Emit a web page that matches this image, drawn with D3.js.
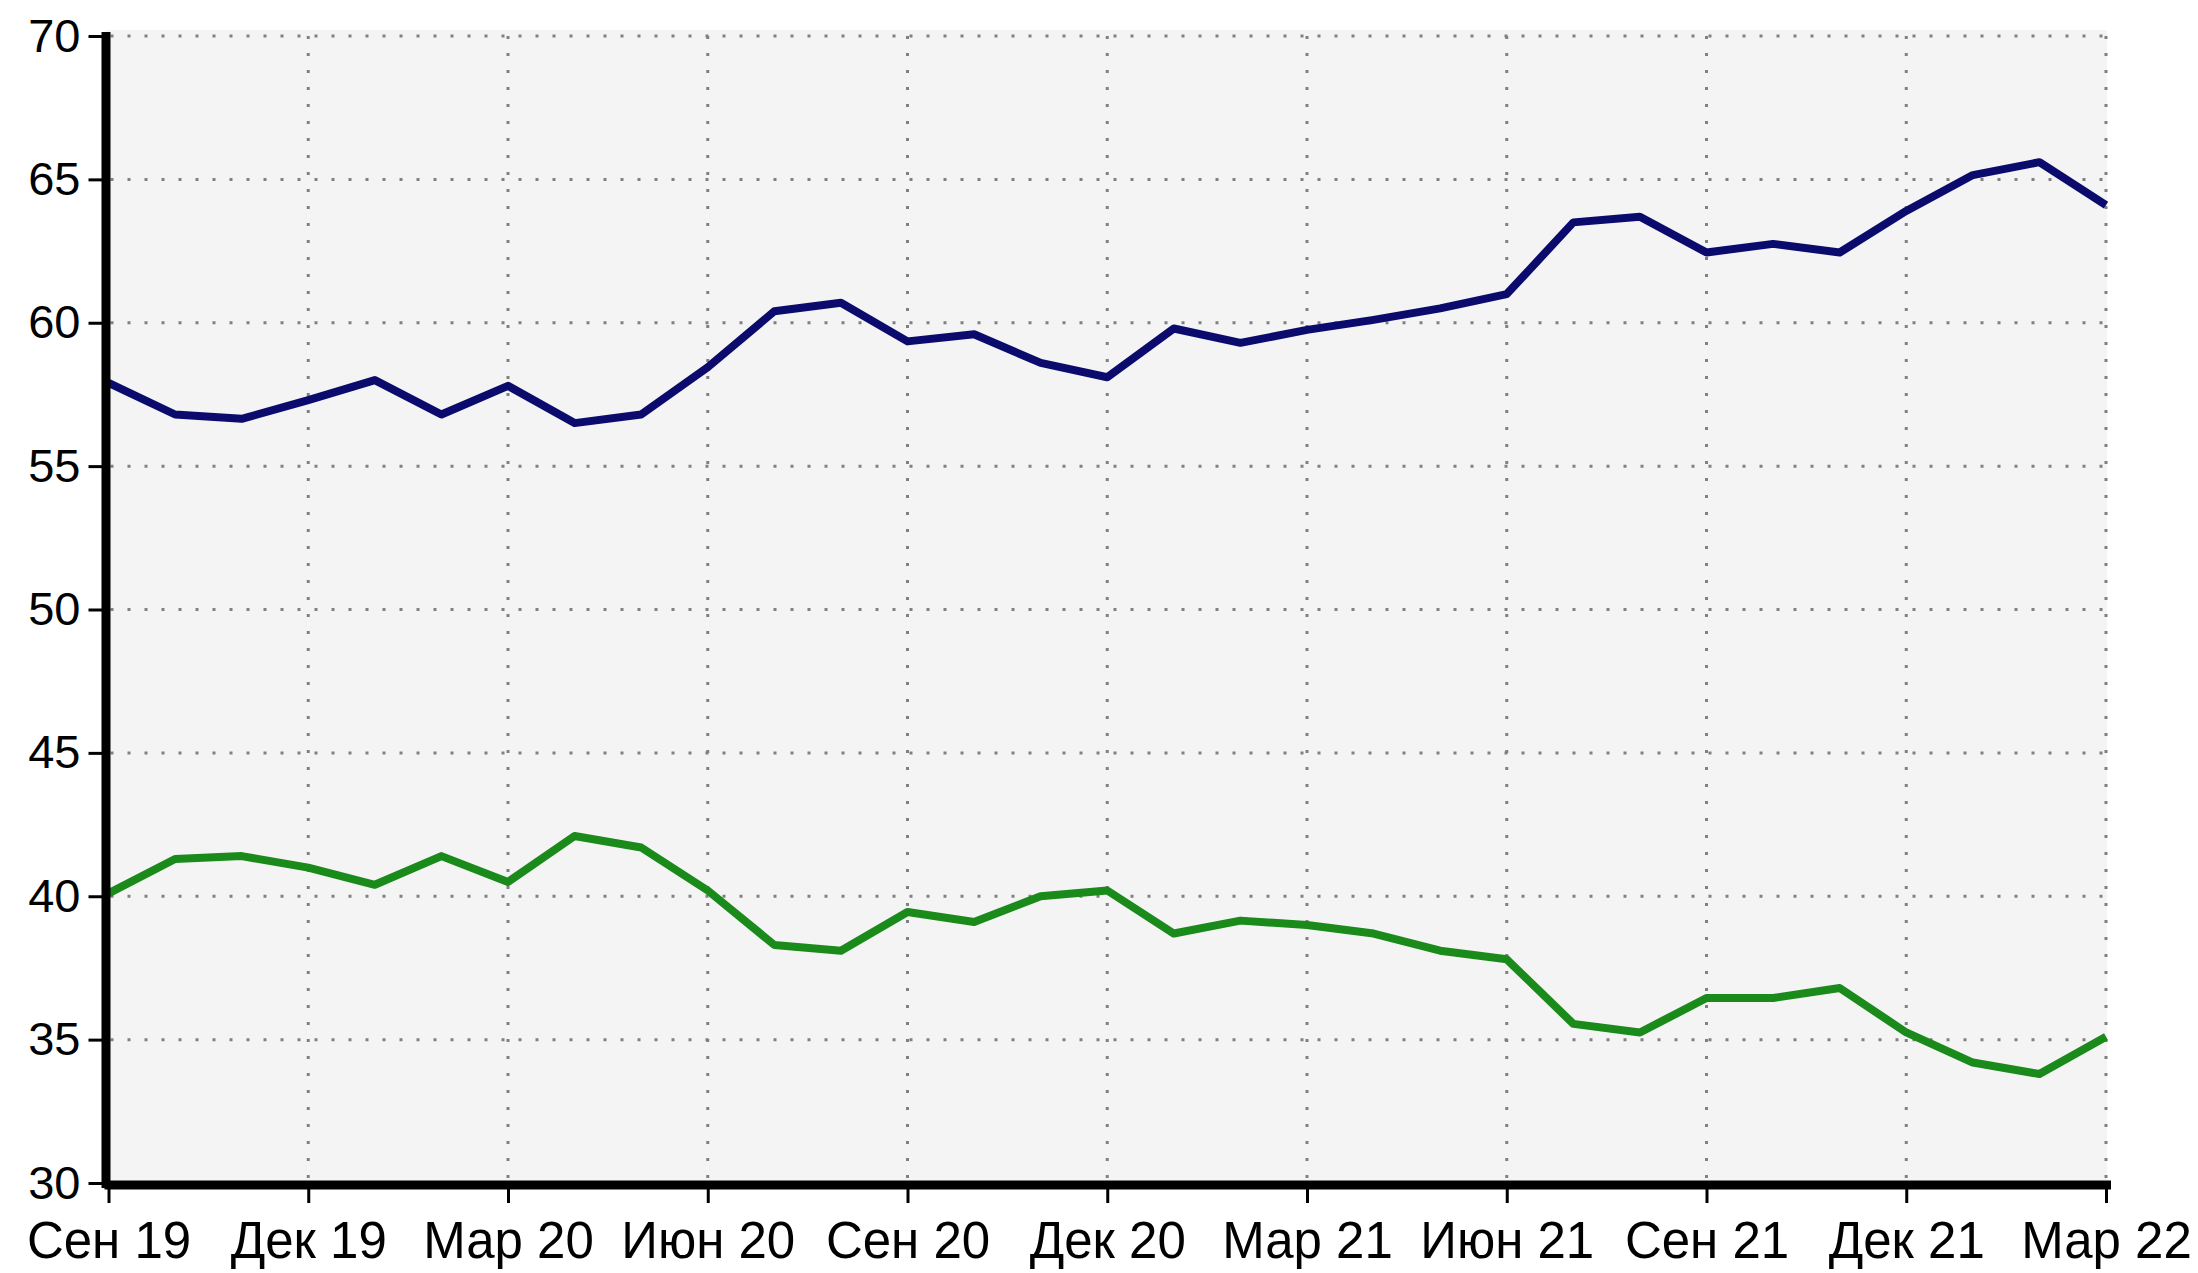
<!DOCTYPE html>
<html>
<head>
<meta charset="utf-8">
<script src="https://cdn.jsdelivr.net/npm/d3@7"></script>
<style>
body { margin: 0; background: #fff; }
svg { display: block; }
.axis text { font-family: "Liberation Sans", Arial, sans-serif; fill: #000; }
</style>
</head>
<body>
<div id="chart"></div>
<script>
// monthly points, Sep 2019 .. Mar 2022
const months = [
    "2019-09", "2019-10", "2019-11", "2019-12", "2020-01", "2020-02", "2020-03", "2020-04",
    "2020-05", "2020-06", "2020-07", "2020-08", "2020-09", "2020-10", "2020-11", "2020-12",
    "2021-01", "2021-02", "2021-03", "2021-04", "2021-05", "2021-06", "2021-07", "2021-08",
    "2021-09", "2021-10", "2021-11", "2021-12", "2022-01", "2022-02", "2022-03"
];
const tickMonths = ["2019-09", "2019-12", "2020-03", "2020-06", "2020-09", "2020-12",
    "2021-03", "2021-06", "2021-09", "2021-12", "2022-03"];
const tickLabels = ["Сен 19", "Дек 19", "Мар 20", "Июн 20", "Сен 20", "Дек 20",
    "Мар 21", "Июн 21", "Сен 21", "Дек 21", "Мар 22"];
const yTicks = [30, 35, 40, 45, 50, 55, 60, 65, 70];

const blueValues = [57.9, 56.8, 56.65, 57.3, 58.0, 56.8, 57.8, 56.5, 56.8, 58.45, 60.4,
    60.7, 59.35, 59.6, 58.6, 58.1, 59.8, 59.3, 59.75, 60.1, 60.5, 61.0, 63.5, 63.7,
    62.45, 62.75, 62.45, 63.9, 65.15, 65.6, 64.1];
const greenValues = [40.1, 41.3, 41.4, 41.0, 40.4, 41.4, 40.5, 42.1, 41.7, 40.2, 38.3,
    38.1, 39.45, 39.1, 40.0, 40.2, 38.7, 39.15, 39.0, 38.7, 38.1, 37.8, 35.55, 35.25,
    36.45, 36.45, 36.8, 35.25, 34.2, 33.8, 35.1];

const width = 2198, height = 1273;
const plot = {left: 105.5, right: 2107, top: 30, bottom: 1184.5};

const svg = d3.select("#chart").append("svg")
    .attr("width", width)
    .attr("height", height);

const x = d3.scalePoint()
    .domain(months)
    .range([108.5, 2106]);

const y = d3.scaleLinear()
    .domain([30, 70])
    .range([1183, 36]);

// plot background
svg.append("rect")
    .attr("x", plot.left)
    .attr("y", plot.top)
    .attr("width", plot.right - plot.left)
    .attr("height", plot.bottom - plot.top)
    .attr("fill", "#f4f4f4");

// dotted grid
svg.append("g")
    .selectAll("line")
    .data(yTicks.filter(d => d > 30))
    .enter().append("line")
    .attr("x1", plot.left + 5)
    .attr("x2", plot.right)
    .attr("y1", d => y(d))
    .attr("y2", d => y(d))
    .attr("stroke", "#808080")
    .attr("stroke-width", 3)
    .attr("stroke-dasharray", "3,14");

svg.append("g")
    .selectAll("line")
    .data(tickMonths.slice(1))
    .enter().append("line")
    .attr("x1", d => x(d))
    .attr("x2", d => x(d))
    .attr("y1", y(70))
    .attr("y2", plot.bottom - 5)
    .attr("stroke", "#808080")
    .attr("stroke-width", 3)
    .attr("stroke-dasharray", "3,14");

// series lines
const line = d3.line()
    .x((d, i) => x(months[i]))
    .y(d => y(d));

svg.append("path")
    .datum(greenValues)
    .attr("fill", "none")
    .attr("stroke", "#1a8a1a")
    .attr("stroke-width", 8)
    .attr("stroke-linejoin", "round")
    .attr("d", line);

svg.append("path")
    .datum(blueValues)
    .attr("fill", "none")
    .attr("stroke", "#0b0b6e")
    .attr("stroke-width", 8)
    .attr("stroke-linejoin", "round")
    .attr("d", line);

// axes
const yAxis = svg.append("g")
    .attr("class", "axis")
    .attr("transform", `translate(${plot.left}, 0)`)
    .call(d3.axisLeft(y).tickValues(yTicks).tickSize(17).tickSizeOuter(0).tickPadding(8));

yAxis.select(".domain")
    .attr("stroke", "#000")
    .attr("stroke-width", 9)
    .attr("stroke-linecap", "square");
yAxis.selectAll(".tick line").attr("stroke", "#000").attr("stroke-width", 3);
yAxis.selectAll(".tick text").style("font-size", "47px");

const xAxis = svg.append("g")
    .attr("class", "axis")
    .attr("transform", `translate(0, ${plot.bottom})`)
    .call(d3.axisBottom(x)
        .tickValues(tickMonths)
        .tickFormat((d, i) => tickLabels[i])
        .tickSize(18.5)
        .tickSizeOuter(0)
        .tickPadding(19));

xAxis.select(".domain")
    .attr("stroke", "#000")
    .attr("stroke-width", 9)
    .attr("stroke-linecap", "square");
xAxis.selectAll(".tick line").attr("stroke", "#000").attr("stroke-width", 3);
xAxis.selectAll(".tick text").style("font-size", "51px");
</script>
</body>
</html>
